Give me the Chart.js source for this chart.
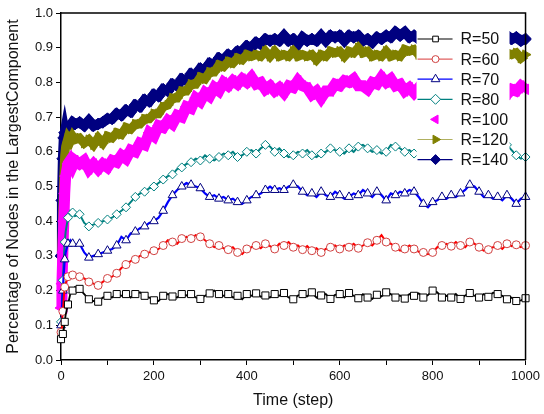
<!DOCTYPE html>
<html>
<head>
<meta charset="utf-8">
<script src="https://cdn.jsdelivr.net/npm/chart.js@4.4.1/dist/chart.umd.min.js"></script>
<style>
  html, body { margin: 0; padding: 0; background: #fff; }
  #wrap { width: 544px; height: 414px; }
</style>
</head>
<body>
<div id="wrap"><canvas id="chart" width="544" height="414"></canvas></div>
<script>
// time steps (x values shared by all series)
const steps = [0, 2, 4, 6, 8, 10, 15, 20, 25, 30,
  40, 50, 60, 70, 80, 90, 100, 110, 120, 130,
  140, 150, 160, 170, 180, 190, 200, 210, 220, 230,
  240, 250, 260, 270, 280, 290, 300, 310, 320, 330,
  340, 350, 360, 370, 380, 390, 400, 410, 420, 430,
  440, 450, 460, 470, 480, 490, 500, 510, 520, 530,
  540, 550, 560, 570, 580, 590, 600, 610, 620, 630,
  640, 650, 660, 670, 680, 690, 700, 710, 720, 730,
  740, 750, 760, 770, 780, 790, 800, 810, 820, 830,
  840, 850, 860, 870, 880, 890, 900, 910, 920, 930,
  940, 950, 960, 970, 980, 990, 1000];

const seriesNames = ['R=50', 'R=60', 'R=70', 'R=80', 'R=100', 'R=120', 'R=140'];

const r50 = [0.06, 0.065, 0.075, 0.09, 0.11, 0.13, 0.16, 0.19, 0.2, 0.21,
  0.205, 0.19, 0.175, 0.17, 0.168, 0.18, 0.185, 0.18, 0.19, 0.185,
  0.19, 0.18, 0.19, 0.195, 0.185, 0.18, 0.172, 0.17, 0.185, 0.19,
  0.183, 0.18, 0.19, 0.186, 0.19, 0.18, 0.176, 0.185, 0.192, 0.2,
  0.19, 0.185, 0.19, 0.18, 0.185, 0.175, 0.19, 0.185, 0.192, 0.182,
  0.186, 0.18, 0.19, 0.185, 0.193, 0.18, 0.175, 0.186, 0.19, 0.183,
  0.195, 0.18, 0.186, 0.19, 0.176, 0.188, 0.19, 0.18, 0.193, 0.185,
  0.178, 0.19, 0.18, 0.176, 0.188, 0.183, 0.195, 0.19, 0.18, 0.186,
  0.177, 0.19, 0.185, 0.192, 0.18, 0.187, 0.2, 0.195, 0.18, 0.185,
  0.18, 0.19, 0.176, 0.186, 0.193, 0.185, 0.18, 0.19, 0.182, 0.194,
  0.19, 0.185, 0.175, 0.18, 0.17, 0.172, 0.178];

const r60 = [0.08, 0.11, 0.14, 0.18, 0.21, 0.22, 0.24, 0.25, 0.245, 0.24,
  0.24, 0.235, 0.225, 0.22, 0.215, 0.225, 0.235, 0.24, 0.25, 0.265,
  0.275, 0.285, 0.29, 0.3, 0.305, 0.31, 0.315, 0.32, 0.33, 0.345,
  0.34, 0.335, 0.35, 0.355, 0.35, 0.36, 0.355, 0.345, 0.335, 0.325,
  0.33, 0.322, 0.318, 0.325, 0.31, 0.305, 0.32, 0.325, 0.33, 0.322,
  0.335, 0.328, 0.32, 0.335, 0.33, 0.34, 0.325, 0.33, 0.318, 0.328,
  0.315, 0.322, 0.31, 0.32, 0.325, 0.33, 0.32, 0.33, 0.325, 0.335,
  0.322, 0.33, 0.338, 0.33, 0.345, 0.36, 0.34, 0.335, 0.325, 0.315,
  0.32, 0.33, 0.32, 0.312, 0.31, 0.305, 0.31, 0.325, 0.33, 0.335,
  0.328, 0.34, 0.33, 0.325, 0.34, 0.335, 0.325, 0.315, 0.318, 0.325,
  0.33, 0.32, 0.335, 0.328, 0.332, 0.325, 0.33];

const r70 = [0.1, 0.15, 0.2, 0.25, 0.29, 0.31, 0.335, 0.345, 0.335, 0.33,
  0.335, 0.31, 0.295, 0.3, 0.305, 0.31, 0.315, 0.32, 0.33, 0.355,
  0.345, 0.365, 0.37, 0.38, 0.385, 0.395, 0.4, 0.41, 0.43, 0.455,
  0.475, 0.49, 0.5, 0.51, 0.505, 0.5, 0.495, 0.48, 0.47, 0.475,
  0.465, 0.47, 0.46, 0.465, 0.455, 0.45, 0.46, 0.47, 0.475, 0.48,
  0.49, 0.5, 0.49, 0.495, 0.49, 0.5, 0.505, 0.5, 0.485, 0.475,
  0.48, 0.47, 0.485, 0.475, 0.47, 0.485, 0.475, 0.465, 0.47, 0.48,
  0.475, 0.49, 0.48, 0.47, 0.485, 0.475, 0.46, 0.48, 0.475, 0.485,
  0.48, 0.49, 0.485, 0.47, 0.45, 0.44, 0.455, 0.46, 0.47, 0.465,
  0.475, 0.47, 0.48, 0.49, 0.505, 0.5, 0.485, 0.47, 0.475, 0.465,
  0.47, 0.46, 0.475, 0.465, 0.45, 0.465, 0.47];

const r80 = [0.11, 0.17, 0.23, 0.29, 0.34, 0.37, 0.41, 0.43, 0.425, 0.415,
  0.42, 0.395, 0.385, 0.39, 0.395, 0.4, 0.405, 0.41, 0.42, 0.43,
  0.44, 0.455, 0.47, 0.48, 0.485, 0.495, 0.5, 0.51, 0.52, 0.53,
  0.535, 0.55, 0.555, 0.565, 0.57, 0.58, 0.575, 0.59, 0.58, 0.575,
  0.585, 0.595, 0.59, 0.6, 0.585, 0.59, 0.6, 0.605, 0.595, 0.61,
  0.62, 0.615, 0.6, 0.61, 0.595, 0.585, 0.59, 0.6, 0.595, 0.605,
  0.59, 0.585, 0.595, 0.6, 0.61, 0.605, 0.6, 0.595, 0.61, 0.6,
  0.615, 0.62, 0.61, 0.6, 0.605, 0.595, 0.6, 0.62, 0.615, 0.61,
  0.6, 0.605, 0.595, 0.6, 0.61, 0.62, 0.6, 0.59, 0.6, 0.605,
  0.61, 0.605, 0.6, 0.61, 0.615, 0.6, 0.605, 0.61, 0.6, 0.6,
  0.605, 0.61, 0.62, 0.605, 0.59, 0.58, 0.585];

const r100 = [0.15, 0.22, 0.31, 0.4, 0.48, 0.53, 0.565, 0.575, 0.56, 0.575,
  0.565, 0.575, 0.55, 0.565, 0.55, 0.565, 0.555, 0.575, 0.57, 0.59,
  0.58, 0.605, 0.6, 0.625, 0.62, 0.655, 0.645, 0.675, 0.67, 0.69,
  0.68, 0.705, 0.7, 0.73, 0.725, 0.755, 0.745, 0.77, 0.76, 0.785,
  0.775, 0.8, 0.79, 0.805, 0.795, 0.81, 0.8, 0.815, 0.795, 0.8,
  0.78, 0.79, 0.775, 0.785, 0.77, 0.79, 0.785, 0.805, 0.79, 0.785,
  0.765, 0.775, 0.755, 0.775, 0.775, 0.795, 0.79, 0.805, 0.8, 0.81,
  0.79, 0.79, 0.78, 0.8, 0.795, 0.815, 0.8, 0.81, 0.79, 0.795,
  0.775, 0.785, 0.77, 0.785, 0.775, 0.79, 0.785, 0.8, 0.785, 0.79,
  0.775, 0.795, 0.79, 0.805, 0.785, 0.79, 0.775, 0.79, 0.785, 0.79,
  0.775, 0.78, 0.765, 0.78, 0.775, 0.79, 0.78];

const r120 = [0.2, 0.32, 0.44, 0.53, 0.59, 0.615, 0.64, 0.63, 0.645, 0.635,
  0.64, 0.625, 0.635, 0.62, 0.64, 0.625, 0.645, 0.64, 0.655, 0.65,
  0.67, 0.665, 0.68, 0.68, 0.695, 0.695, 0.71, 0.71, 0.73, 0.735,
  0.755, 0.755, 0.775, 0.775, 0.795, 0.795, 0.815, 0.81, 0.83, 0.83,
  0.85, 0.845, 0.86, 0.855, 0.87, 0.865, 0.88, 0.875, 0.88, 0.875,
  0.89, 0.875, 0.89, 0.875, 0.88, 0.875, 0.89, 0.875, 0.88, 0.875,
  0.88, 0.865, 0.88, 0.875, 0.89, 0.885, 0.89, 0.875, 0.89, 0.885,
  0.9, 0.885, 0.89, 0.875, 0.88, 0.875, 0.89, 0.875, 0.88, 0.875,
  0.895, 0.89, 0.895, 0.88, 0.885, 0.88, 0.885, 0.875, 0.885, 0.88,
  0.885, 0.88, 0.895, 0.88, 0.885, 0.88, 0.885, 0.87, 0.885, 0.88,
  0.885, 0.87, 0.885, 0.88, 0.885, 0.87, 0.88];

const r140 = [0.3, 0.46, 0.58, 0.64, 0.655, 0.64, 0.665, 0.675, 0.685, 0.68,
  0.685, 0.675, 0.69, 0.675, 0.68, 0.685, 0.695, 0.695, 0.71, 0.705,
  0.72, 0.715, 0.735, 0.73, 0.75, 0.745, 0.765, 0.76, 0.78, 0.775,
  0.795, 0.79, 0.81, 0.805, 0.825, 0.82, 0.84, 0.835, 0.855, 0.85,
  0.87, 0.865, 0.88, 0.875, 0.89, 0.89, 0.905, 0.9, 0.915, 0.91,
  0.925, 0.92, 0.925, 0.92, 0.935, 0.92, 0.925, 0.91, 0.93, 0.92,
  0.925, 0.92, 0.935, 0.92, 0.935, 0.93, 0.935, 0.92, 0.935, 0.93,
  0.935, 0.92, 0.925, 0.915, 0.93, 0.925, 0.935, 0.93, 0.945, 0.935,
  0.945, 0.93, 0.935, 0.925, 0.93, 0.925, 0.935, 0.92, 0.93, 0.925,
  0.935, 0.925, 0.93, 0.92, 0.935, 0.925, 0.93, 0.92, 0.935, 0.925,
  0.93, 0.92, 0.935, 0.925, 0.93, 0.92, 0.925];

const FONT = '"Liberation Sans", Arial, sans-serif';

function toXY(vals) {
  return vals.map((v, i) => ({ x: steps[i], y: v }));
}

// open markers only on every other sample, like the original plot
function sparse(r) {
  return ctx => (ctx.dataIndex % 2 === 0 ? r : 0);
}

const datasets = [
  { label: seriesNames[0], data: toXY(r50), borderColor: '#000000', borderWidth: 1.8,
    pointStyle: 'rect', pointRadius: sparse(5), pointBackgroundColor: '#ffffff',
    pointBorderColor: '#000000', pointBorderWidth: 1, legendRadius: 4, legendLine: '#000000' },
  { label: seriesNames[1], data: toXY(r60), borderColor: '#ff0000', borderWidth: 2,
    pointStyle: 'circle', pointRadius: sparse(4), pointBackgroundColor: '#ffffff',
    pointBorderColor: '#d04040', pointBorderWidth: 1, legendRadius: 3.5, legendLine: '#e06060' },
  { label: seriesNames[2], data: toXY(r70), borderColor: '#0000ff', borderWidth: 2.2,
    pointStyle: 'triangle', pointRadius: sparse(5), pointBackgroundColor: '#ffffff',
    pointBorderColor: '#000080', pointBorderWidth: 1, legendRadius: 5, legendLine: '#0000ff' },
  { label: seriesNames[3], data: toXY(r80), borderColor: '#008080', borderWidth: 2,
    pointStyle: 'rectRot', pointRadius: sparse(4.5), pointBackgroundColor: '#ffffff',
    pointBorderColor: '#008080', pointBorderWidth: 1, legendRadius: 5, legendLine: '#008080' },
  // dense filled markers form a thick band; a wide stroke of the same colour fills it in
  { label: seriesNames[4], data: toXY(r100), borderColor: '#ff00ff', borderWidth: 11,
    pointStyle: 'triangle', pointRotation: -90, pointRadius: 6,
    pointBackgroundColor: '#ff00ff', pointBorderColor: '#ff00ff', pointBorderWidth: 1,
    legendRadius: 5, legendLine: null },
  { label: seriesNames[5], data: toXY(r120), borderColor: '#808000', borderWidth: 9,
    pointStyle: 'triangle', pointRotation: 90, pointRadius: 5.5,
    pointBackgroundColor: '#808000', pointBorderColor: '#808000', pointBorderWidth: 1,
    legendRadius: 5, legendLine: '#b0b060' },
  { label: seriesNames[6], data: toXY(r140), borderColor: '#000080', borderWidth: 10,
    pointStyle: 'rectRot', pointRadius: 6, pointBackgroundColor: '#000080',
    pointBorderColor: '#000080', pointBorderWidth: 1, legendRadius: 5, legendLine: '#000080' }
];
datasets.forEach(ds => { ds.clip = 6; ds.tension = 0; ds.borderJoinStyle = 'miter'; });

// box around the plot (top and right edges)
const framePlugin = {
  id: 'frame',
  afterDraw(chart) {
    const { ctx, chartArea: a } = chart;
    ctx.save();
    ctx.strokeStyle = '#000';
    ctx.lineWidth = 1.5;
    ctx.beginPath();
    ctx.moveTo(a.left, a.top);
    ctx.lineTo(a.right, a.top);
    ctx.lineTo(a.right, a.bottom);
    ctx.stroke();
    ctx.restore();
  }
};

// legend drawn inside the plot with a white box over the data
const insideLegend = {
  id: 'insideLegend',
  afterDatasetsDraw(chart) {
    const { ctx, chartArea: a } = chart;
    const x0 = a.right - 109, y0 = a.top + 14;
    ctx.save();
    ctx.fillStyle = '#fff';
    ctx.fillRect(x0, y0, 93, 145);
    chart.data.datasets.forEach((ds, i) => {
      const y = y0 + 12 + i * 20.1;
      if (ds.legendLine) {
        ctx.strokeStyle = ds.legendLine;
        ctx.lineWidth = 1.2;
        ctx.beginPath();
        ctx.moveTo(x0 + 1, y);
        ctx.lineTo(x0 + 36, y);
        ctx.stroke();
      }
      ctx.fillStyle = ds.pointBackgroundColor;
      ctx.strokeStyle = ds.pointBorderColor;
      ctx.lineWidth = 1;
      Chart.helpers.drawPoint(ctx, {
        pointStyle: ds.pointStyle, rotation: ds.pointRotation || 0,
        radius: ds.legendRadius, borderWidth: 1
      }, x0 + 19, y);
      ctx.fillStyle = '#111';
      ctx.font = '16px ' + FONT;
      ctx.textBaseline = 'middle';
      ctx.textAlign = 'left';
      ctx.fillText(ds.label, x0 + 44, y + 1);
    });
    ctx.restore();
  }
};

new Chart(document.getElementById('chart'), {
  type: 'line',
  data: { datasets: datasets },
  options: {
    responsive: false,
    animation: false,
    devicePixelRatio: 1,
    layout: { padding: { top: 13, right: 16, left: 0, bottom: 0 } },
    plugins: {
      legend: { display: false },
      tooltip: { enabled: false }
    },
    scales: {
      x: {
        type: 'linear',
        min: 0,
        max: 1000,
        afterFit: s => { s.height = 54; },
        ticks: {
          stepSize: 100,
          color: '#111',
          padding: 4,
          maxRotation: 0,
          font: { family: FONT, size: 13 },
          callback: v => (v % 200 === 0 ? String(v) : '')
        },
        grid: { drawOnChartArea: false, color: '#000', tickLength: 5, lineWidth: 1 },
        border: { color: '#000', width: 1.5 },
        title: { display: true, text: 'Time (step)', color: '#111',
          font: { family: FONT, size: 16 }, padding: { top: 0, bottom: 4 } }
      },
      y: {
        min: 0,
        max: 1,
        afterFit: s => { s.width = 61; },
        ticks: {
          stepSize: 0.05,
          color: '#111',
          padding: 3,
          font: { family: FONT, size: 13 },
          callback: v => (Math.round(v * 100) % 10 === 0 ? v.toFixed(1) : '')
        },
        grid: { drawOnChartArea: false, color: '#000', tickLength: 5, lineWidth: 1 },
        border: { color: '#000', width: 1.5 },
        title: { display: true, text: 'Percentage of Nodes in the LargestComponent', color: '#111',
          font: { family: FONT, size: 16 }, padding: { top: 4, bottom: 0 } }
      }
    }
  },
  plugins: [framePlugin, insideLegend]
});
</script>
</body>
</html>
